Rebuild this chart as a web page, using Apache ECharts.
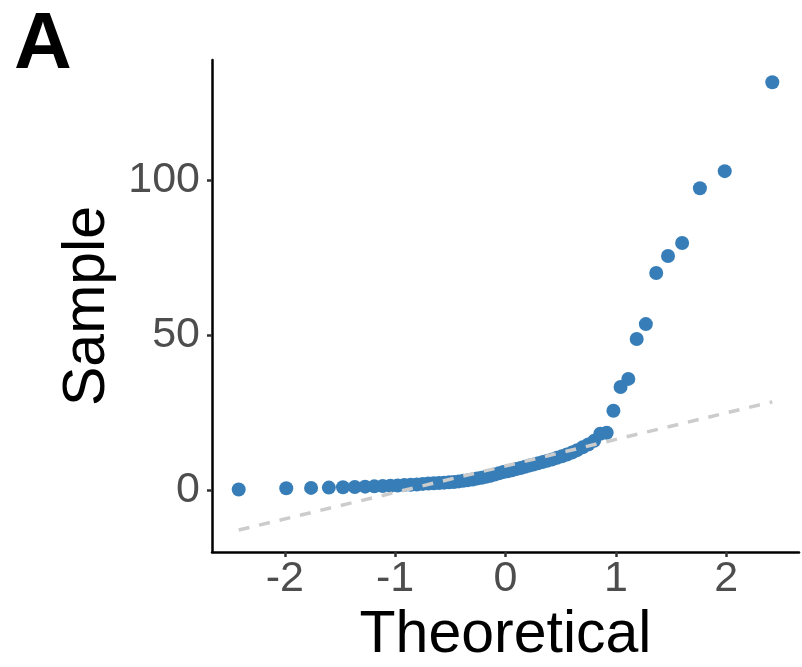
<!DOCTYPE html>
<html>
<head>
<meta charset="utf-8">
<script src="https://cdn.jsdelivr.net/npm/echarts@6/dist/echarts.min.js"></script>
<style>
html,body{margin:0;padding:0;background:#fff;}
#chart{width:802px;height:667px;}
</style>
</head>
<body>
<div id="chart"></div>
<script>
// Theoretical normal quantiles (x)
const theoretical = [
 -2.418,-1.987,-1.762,-1.601,-1.473,-1.366,-1.272,-1.189,-1.113,-1.043,
 -0.978,-0.917,-0.859,-0.803,-0.750,-0.699,-0.650,-0.602,-0.556,-0.511,
 -0.467,-0.424,-0.382,-0.340,-0.298,-0.258,-0.217,-0.177,-0.137,-0.098,
 -0.059,-0.020,0.020,0.059,0.098,0.137,0.177,0.217,0.258,0.298,
 0.340,0.382,0.424,0.467,0.511,0.556,0.602,0.650,0.699,0.750,
 0.803,0.859,0.917,0.978,1.043,1.113,1.189,1.272,1.366,1.473,
 1.601,1.762,1.987,2.418
];
// Sample values (y)
const sample = [
 0.1,0.5,0.6,0.7,0.8,0.9,1.0,1.1,1.2,1.3,
 1.4,1.5,1.6,1.7,1.9,2.0,2.1,2.2,2.3,2.4,
 2.5,2.7,2.9,3.1,3.3,3.6,3.9,4.2,4.5,4.9,
 5.3,5.7,6.0,6.3,6.7,7.0,7.4,7.8,8.2,8.6,
 9.0,9.4,9.8,10.3,10.8,11.4,12.0,12.8,13.7,14.6,
 15.8,18.1,18.4,25.5,33.2,35.8,48.7,53.5,70.0,75.5,
 79.7,97.4,102.9,131.6
];
// Reference (qq) line end points
const refLineX = [-2.418, 2.418];
const refLineY = [-13.0, 28.4];
const xTicks = [-2,-1,0,1,2];
const yTicks = [0,50,100];

const pts = theoretical.map((x,i)=>[x, sample[i]]);
const refLine = refLineX.map((x,i)=>[x, refLineY[i]]);

const chart = echarts.init(document.getElementById('chart'), null, {renderer:'canvas'});
const font = '"Liberation Sans", Arial, Helvetica, sans-serif';
chart.setOption({
  animation:false,
  backgroundColor:'#ffffff',
  grid:{left:212, right:3, top:60, bottom:115, containLabel:false, outerBoundsMode:'none'},
  graphic:[{
    type:'text', left:14, top:6,
    style:{text:'A', font:'bold 80px '+font, fill:'#000'}
  }],
  xAxis:{
    type:'value', min:-2.66, max:2.66,
    name:'Theoretical', nameLocation:'middle', nameGap:54,
    nameTextStyle:{fontSize:59, color:'#000', fontFamily:font},
    axisLine:{show:true, onZero:false, lineStyle:{color:'#000', width:2.5}},
    axisTick:{show:true, length:5, customValues:xTicks, lineStyle:{color:'#333', width:2.5}},
    axisLabel:{customValues:xTicks, fontSize:43, color:'#4d4d4d', fontFamily:font, margin:6},
    splitLine:{show:false}
  },
  yAxis:{
    type:'value', min:-20.1, max:138.8,
    name:'Sample', nameLocation:'middle', nameGap:94,
    nameTextStyle:{fontSize:59, color:'#000', fontFamily:font},
    axisLine:{show:true, onZero:false, lineStyle:{color:'#000', width:2.5}},
    axisTick:{show:true, length:5, customValues:yTicks, lineStyle:{color:'#333', width:2.5}},
    axisLabel:{customValues:yTicks, fontSize:43, color:'#4d4d4d', fontFamily:font, margin:12},
    splitLine:{show:false}
  },
  series:[
    {type:'scatter', data:pts, symbolSize:14, itemStyle:{color:'#377EB8', opacity:1}, z:2},
    {type:'line', data:refLine, showSymbol:false, symbol:'none', z:3,
     lineStyle:{color:'#cccccc', width:3.5, type:[11,10]}}
  ]
});
</script>
</body>
</html>
